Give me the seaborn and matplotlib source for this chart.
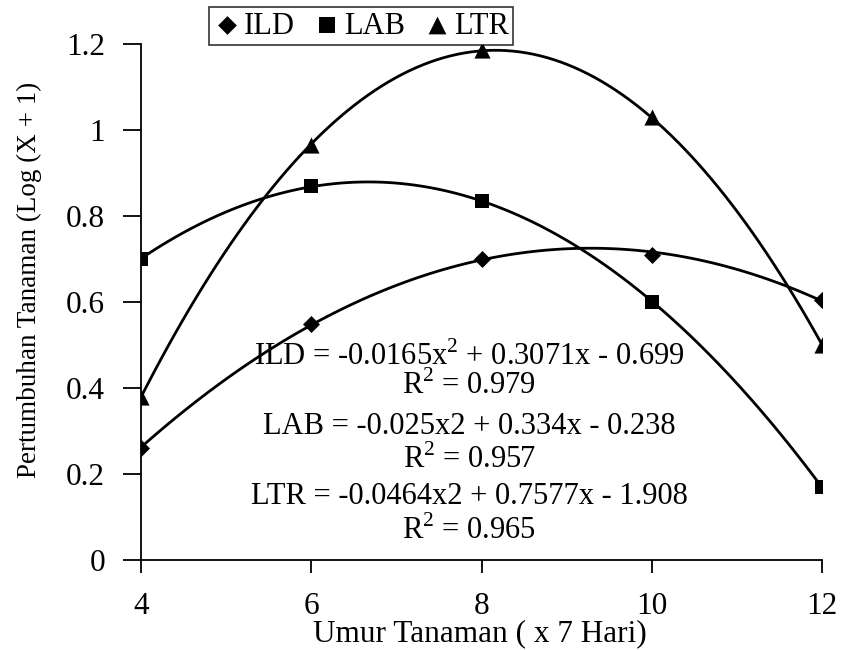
import matplotlib
matplotlib.use("Agg")
import matplotlib.pyplot as plt
import seaborn as sns
import numpy as np
import pandas as pd
from matplotlib.ticker import FormatStrFormatter

# ---- data ----
umur = [4, 6, 8, 10, 12]
ild = [0.26, 0.55, 0.70, 0.71, 0.605]
lab = [0.70, 0.87, 0.835, 0.60, 0.17]
ltr = [0.38, 0.965, 1.185, 1.03, 0.50]
series_names = ["ILD", "LAB", "LTR"]
x_ticks = [4, 6, 8, 10, 12]
y_ticks = [0, 0.2, 0.4, 0.6, 0.8, 1.0, 1.2]
equations = [
    r"ILD = -0.0165x$^{2}$ + 0.3071x - 0.699",
    r"R$^{2}$ = 0.979",
    "LAB = -0.025x2 + 0.334x - 0.238",
    r"R$^{2}$ = 0.957",
    "LTR = -0.0464x2 + 0.7577x - 1.908",
    r"R$^{2}$ = 0.965",
]

df = pd.DataFrame({"umur": umur, "ILD": ild, "LAB": lab, "LTR": ltr})

sns.set_style("ticks")
plt.rcParams["font.family"] = ["Liberation Serif", "DejaVu Serif"]
plt.rcParams["mathtext.fontset"] = "custom"
plt.rcParams["mathtext.rm"] = "Liberation Serif"
plt.rcParams["text.color"] = "black"
plt.rcParams["axes.labelcolor"] = "black"
plt.rcParams["xtick.color"] = "black"
plt.rcParams["ytick.color"] = "black"

fig = plt.figure(figsize=(8.41, 6.5), dpi=100)
ax = fig.add_axes([141 / 841, 1 - 560 / 650, (822 - 141) / 841, (560 - 44) / 650])

markers = {"ILD": "D", "LAB": "s", "LTR": "^"}
sizes = {"ILD": 75, "LAB": 115, "LTR": 135}
for name in series_names:
    sns.regplot(data=df, x="umur", y=name, order=2, ci=None, ax=ax,
                marker=markers[name], color="black", label=name,
                scatter_kws={"s": sizes[name], "alpha": 1, "zorder": 3, "linewidths": 0},
                line_kws={"lw": 2.0, "color": "black"})

ax.set_xlim(4, 12)
ax.set_ylim(0, 1.2)
ax.set_xticks(x_ticks)
ax.set_yticks(y_ticks)
ax.yaxis.set_major_formatter(FormatStrFormatter("%g"))
ax.tick_params(axis="x", direction="out", length=9, width=1.3, pad=14, labelsize=22.5, colors="black")
ax.tick_params(axis="y", direction="out", length=13, width=1.3, pad=13, labelsize=22.5, colors="black")
for side in ["top", "right"]:
    ax.spines[side].set_visible(False)
for side in ["left", "bottom"]:
    ax.spines[side].set_linewidth(1.3)
    ax.spines[side].set_color("black")

ax.set_xlabel("Umur Tanaman ( x 7 Hari)", fontsize=22.5, labelpad=0, color="black")
ax.set_ylabel("Pertumbuhan Tanaman (Log (X + 1)", fontsize=19.5, color="black")
ax.yaxis.set_label_coords(29 / 841, 1 - 280 / 650, transform=fig.transFigure)
ax.xaxis.set_label_coords(480 / 841, 1 - 634 / 650, transform=fig.transFigure)
ax.xaxis.label.set_va("center")
ax.yaxis.label.set_va("center")

ys = [357, 386, 426, 460, 497, 531]
for txt, yp in zip(equations, ys):
    fig.text(469 / 841, 1 - yp / 650, txt, ha="center", va="center",
             fontsize=22, color="black")

leg = ax.legend(loc="center", bbox_to_anchor=(361 / 841, 1 - 26 / 650),
                bbox_transform=fig.transFigure, ncol=3, fontsize=22,
                frameon=True, fancybox=False, handletextpad=0.1,
                columnspacing=0.6, handlelength=0.9, borderpad=0.15,
                borderaxespad=0, markerscale=1.1, labelcolor="black")
leg.get_frame().set_edgecolor("black")
leg.get_frame().set_linewidth(1.2)

fig.savefig("out.png", dpi=100)
